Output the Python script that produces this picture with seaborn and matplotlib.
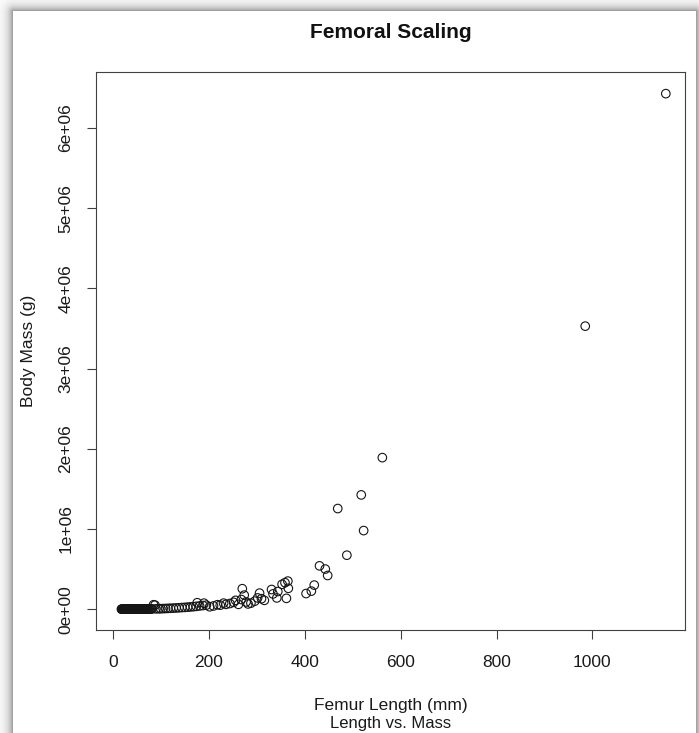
import numpy as np
import pandas as pd
import matplotlib
matplotlib.use("Agg")
import matplotlib.pyplot as plt
import seaborn as sns

# Femur length (mm) and body mass (g)
femur_mm = [
    18, 19, 20, 21, 22, 22, 23, 24, 25, 25, 26, 27, 28, 28, 29, 30, 31, 31,
    32, 33, 34, 35, 35, 36, 37, 38, 39, 40, 40, 41, 42, 43, 44, 45, 46, 47,
    48, 49, 50, 51, 52, 53, 54, 55, 56, 57, 58, 59, 60, 61, 62, 63, 64, 65,
    66, 67, 68, 70, 71, 72, 74, 76, 78, 80,
    82, 85, 88, 90, 96, 100, 105, 110, 115, 120, 126, 132, 138, 144, 150,
    156, 162, 168, 174, 176, 181, 188, 190, 195, 202, 210, 218, 224, 231,
    236, 244, 252, 256, 262, 268, 270, 274, 278, 282, 288, 296, 302, 306,
    310, 316, 331, 334, 342, 344, 353, 359, 362, 365, 366, 403, 414, 420,
    431, 443, 448, 469, 488, 518, 523, 562, 985, 1153,
]
mass_g = [
    9, 12, 15, 14, 20, 18, 25, 22, 30, 28, 35, 40, 38, 45, 50, 55, 60, 70,
    75, 80, 90, 100, 110, 120, 130, 140, 150, 160, 180, 200, 210, 230, 250,
    280, 300, 320, 350, 380, 400, 430, 460, 500, 540, 580, 620, 660, 700,
    750, 800, 850, 900, 960, 1000, 1100, 1200, 1300, 1400, 1500, 1700, 1800,
    2000, 2200, 2500, 2800,
    3000, 55000, 50000, 4000, 5000, 6000, 7000, 8000, 9500, 11000, 13000,
    15000, 17000, 20000, 22000, 25000, 28000, 31000, 35000, 80000, 40000,
    45000, 75000, 50000, 30000, 40000, 55000, 50000, 75000, 60000, 70000,
    85000, 110000, 60000, 120000, 255000, 175000, 90000, 65000, 75000,
    100000, 140000, 200000, 130000, 110000, 245000, 190000, 140000, 220000,
    310000, 330000, 135000, 350000, 260000, 195000, 225000, 300000, 540000,
    500000, 420000, 1255000, 673000, 1425000, 980000, 1890000, 3530000,
    6430000,
]

x_ticks = [0, 200, 400, 600, 800, 1000]
y_ticks = [0, 1e6, 2e6, 3e6, 4e6, 5e6, 6e6]
y_tick_labels = ["0e+00", "1e+06", "2e+06", "3e+06", "4e+06", "5e+06", "6e+06"]

df = pd.DataFrame({"femur": femur_mm, "mass": mass_g})

sns.set_style("ticks")
plt.rcParams["font.family"] = ["Liberation Sans", "DejaVu Sans"]

W, H, DPI = 699, 733, 100
fig = plt.figure(figsize=(W / DPI, H / DPI), dpi=DPI)
fig.patch.set_facecolor("white")

# soft page shadow around the sheet
yy, xx = np.mgrid[0:H, 0:W].astype(float)
x0, x1, y0 = 13.0, 695.0, 11.0
dx = np.maximum.reduce([x0 - xx, np.zeros_like(xx), xx - x1])
dy = np.maximum(y0 - yy, 0.0)
d = np.hypot(dx, dy)
shade = np.where((dx > 0) | (dy > 0), 1.0 - 0.45 * np.exp(-d / 5.0), 1.0)
bg = np.dstack([shade, shade, shade])
fig.figimage(bg, 0, 0, zorder=-1)

ax = fig.add_axes([96 / W, 1 - 630 / H, (685 - 96) / W, (630 - 72) / H])
ax.set_facecolor("white")

sns.scatterplot(data=df, x="femur", y="mass", ax=ax, marker="o", s=38,
                edgecolor="#151515", linewidth=0.8, legend=False)
ax.collections[0].set_facecolor("none")

ax.set_xlim(-35, 1193)
ax.set_ylim(-0.26e6, 6.70e6)
ax.set_xticks(x_ticks)
ax.set_xticklabels([str(t) for t in x_ticks])
ax.set_yticks(y_ticks)
ax.set_yticklabels(y_tick_labels, rotation=90, va="center")

for sp in ax.spines.values():
    sp.set_visible(True)
    sp.set_color("#404040")
    sp.set_linewidth(0.8)

ax.tick_params(axis="both", length=6.8, width=0.8, color="#404040",
               labelsize=12.5, labelcolor="#1a1a1a")
ax.tick_params(axis="x", pad=11.5)
ax.tick_params(axis="y", pad=9.5)
ax.set_xlabel("")
ax.set_ylabel("")

cx = (96 + 685) / 2 / W
fig.text(cx, 1 - 32 / H, "Femoral Scaling", ha="center", va="center",
         fontsize=15, fontweight="bold", color="#111111")
fig.text(cx, 1 - 698 / H, "Femur Length (mm)", ha="center", va="top",
         fontsize=12.5, color="#1a1a1a")
fig.text(cx, 1 - 716 / H, "Length vs. Mass", ha="center", va="top",
         fontsize=12, color="#1a1a1a")
fig.text(28 / W, 1 - 351 / H, "Body Mass (g)", ha="center", va="center",
         rotation=90, fontsize=12.5, color="#1a1a1a")

fig.savefig("out.png", dpi=DPI)
